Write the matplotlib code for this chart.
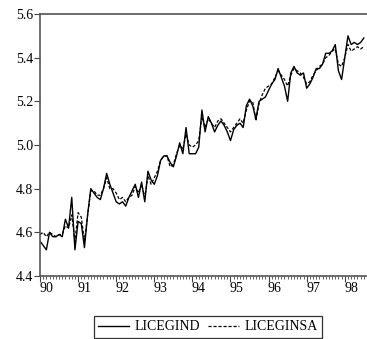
import numpy as np
import matplotlib.pyplot as plt
from matplotlib import rcParams
from matplotlib.transforms import ScaledTranslation

rcParams['font.family'] = ['Liberation Serif', 'DejaVu Serif']

# 月度数据 1990M1 - 1998M7
years = ['90', '91', '92', '93', '94', '95', '96', '97', '98']

licegind = [4.56, 4.54, 4.52, 4.60, 4.58, 4.58, 4.59, 4.58, 4.66, 4.62,
            4.76, 4.52, 4.65, 4.64, 4.53, 4.68, 4.80, 4.78, 4.76,
            4.75, 4.80, 4.87, 4.82, 4.78, 4.74, 4.73, 4.74, 4.72, 4.76,
            4.79, 4.82, 4.76, 4.83, 4.74, 4.88, 4.84, 4.82, 4.86, 4.93,
            4.95, 4.95, 4.92, 4.90, 4.95, 5.01, 4.96, 5.08, 4.96, 4.96,
            4.96, 4.99, 5.16, 5.06, 5.13, 5.10, 5.06, 5.09, 5.11,
            5.09, 5.06, 5.02, 5.07, 5.09, 5.10, 5.08, 5.18, 5.21, 5.18,
            5.12, 5.20, 5.21, 5.22, 5.25, 5.28, 5.30, 5.35, 5.31, 5.27,
            5.20, 5.33, 5.36, 5.33, 5.32, 5.33, 5.26, 5.28, 5.31, 5.35,
            5.35, 5.37, 5.42, 5.42, 5.43, 5.46, 5.34, 5.30, 5.40,
            5.50, 5.46, 5.47, 5.46, 5.47, 5.49]

liceginsa = [4.59, 4.60, 4.58, 4.60, 4.59, 4.58, 4.59, 4.59, 4.63, 4.62,
             4.68, 4.56, 4.69, 4.67, 4.56, 4.68, 4.79, 4.79, 4.77,
             4.77, 4.80, 4.85, 4.80, 4.80, 4.78, 4.75, 4.76, 4.74, 4.76,
             4.77, 4.81, 4.78, 4.82, 4.76, 4.86, 4.82, 4.85, 4.88, 4.93,
             4.95, 4.95, 4.90, 4.91, 4.96, 5.00, 4.98, 5.05, 5.00, 4.99,
             5.00, 5.02, 5.13, 5.08, 5.12, 5.10, 5.08, 5.11, 5.12,
             5.10, 5.08, 5.06, 5.08, 5.10, 5.12, 5.10, 5.16, 5.20, 5.20,
             5.11, 5.19, 5.23, 5.26, 5.27, 5.28, 5.31, 5.34, 5.32, 5.30,
             5.27, 5.32, 5.35, 5.34, 5.33, 5.31, 5.28, 5.29, 5.32, 5.34,
             5.36, 5.37, 5.40, 5.41, 5.43, 5.44, 5.37, 5.36, 5.40,
             5.46, 5.43, 5.44, 5.45, 5.44, 5.45]

t = np.arange(len(licegind))

fig = plt.figure(figsize=(3.67, 3.39), dpi=100)
# 坐标轴：左 40px，上 14px，下 276px，右侧超出画面
ax = fig.add_axes([40 / 367, 1 - 276 / 339, 327 / 367, 262 / 339])

l1, = ax.plot(t, licegind, color='black', lw=1.0, label='LICEGIND')
l2, = ax.plot(t, liceginsa, color='black', lw=0.9, ls=(0, (2.5, 1.5)), label='LICEGINSA')

ax.set_xlim(0, 103)
ax.set_ylim(4.4, 5.6)
ax.set_yticks(np.arange(4.4, 5.61, 0.2))
ax.set_yticklabels(['4.4', '4.6', '4.8', '5.0', '5.2', '5.4', '5.6'])

# 年份刻度（长）+ 月份刻度（短）
ax.set_xticks(np.arange(0, len(t), 12))
ax.set_xticklabels([])
ax.set_xticks(t, minor=True)
off = ax.get_xaxis_transform() + ScaledTranslation(0, -4 / 72, fig.dpi_scale_trans)
for k, yr in enumerate(years):
    ax.text(12 * k + 2, 0, yr, transform=off, ha='center', va='top', fontsize=10)

ax.tick_params(axis='x', which='major', direction='out', length=4, width=0.8, color='#444444')
ax.tick_params(axis='x', which='minor', direction='out', length=2.5, width=0.6, color='#444444')
ax.tick_params(axis='y', direction='out', length=4, width=0.8, color='#444444', labelsize=10, pad=1)

for s in ['left', 'bottom', 'top']:
    ax.spines[s].set_color('#555555')
    ax.spines[s].set_linewidth(1.2)
ax.spines['right'].set_visible(False)

leg = fig.legend(handles=[l1, l2], loc='center', bbox_to_anchor=(208 / 367, 1 - 327 / 339), ncol=2,
                 frameon=True, fancybox=False, edgecolor='black', fontsize=10,
                 handlelength=2.2, handletextpad=0.4, columnspacing=0.6,
                 borderpad=0.3, borderaxespad=0)
leg.get_frame().set_linewidth(0.9)

fig.savefig('out.png', dpi=100)
